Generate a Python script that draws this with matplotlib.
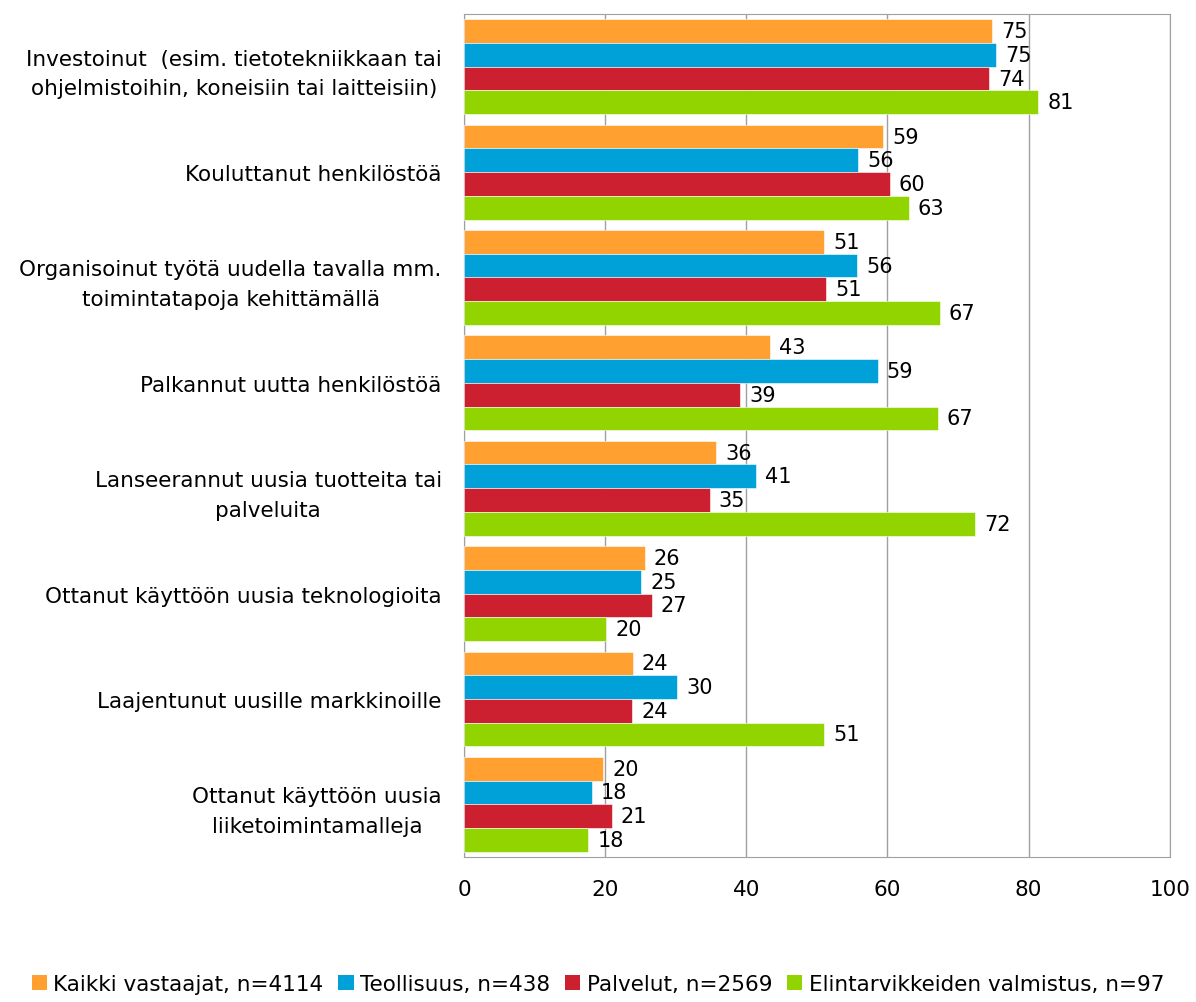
import numpy as np
import matplotlib.pyplot as plt
from matplotlib.patches import Patch

# data
categories = [
    'Investoinut  (esim. tietotekniikkaan tai\nohjelmistoihin, koneisiin tai laitteisiin)',
    'Kouluttanut henkilöstöä',
    'Organisoinut työtä uudella tavalla mm.\ntoimintatapoja kehittämällä',
    'Palkannut uutta henkilöstöä',
    'Lanseerannut uusia tuotteita tai\npalveluita',
    'Ottanut käyttöön uusia teknologioita',
    'Laajentunut uusille markkinoille',
    'Ottanut käyttöön uusia\nliiketoimintamalleja',
]
series_names = ['Kaikki vastaajat, n=4114', 'Teollisuus, n=438',
                'Palvelut, n=2569', 'Elintarvikkeiden valmistus, n=97']
kaikki = [74.8, 59.4, 51.0, 43.3, 35.7, 25.6, 23.9, 19.7]
teollisuus = [75.4, 55.8, 55.7, 58.6, 41.4, 25.1, 30.2, 18.1]
palvelut = [74.4, 60.3, 51.3, 39.1, 34.8, 26.6, 23.8, 20.9]
elintarvike = [81.4, 63.0, 67.4, 67.1, 72.4, 20.1, 51.0, 17.6]
series = [kaikki, teollisuus, palvelut, elintarvike]
colors = ['#ffa030', '#00a0d8', '#cc2030', '#92d400']
xticks = [0, 20, 40, 60, 80, 100]

fs = 15.5
fig = plt.figure(figsize=(11.96, 10.03), dpi=100)
ax = fig.add_axes([0.388, 0.1446, 0.590, 0.8404])

y = np.arange(len(categories))
h = 0.225
for k, (vals, col) in enumerate(zip(series, colors)):
    pos = y + (k - 1.5) * h
    ax.barh(pos, vals, height=h, color=col, edgecolor='white', linewidth=0.4, zorder=3)
    for p, v in zip(pos, vals):
        ax.text(v + 1.3, p, f'{v:.0f}', va='center', ha='left', fontsize=15, zorder=4)

ax.set_xlim(0, 100)
ax.set_ylim(len(categories) - 0.5, -0.5)
ax.set_xticks(xticks)
ax.set_xticklabels([str(t) for t in xticks], fontsize=fs)
ax.set_yticks(y)
ax.set_yticklabels(categories, fontsize=fs, multialignment='center', linespacing=1.6)
ax.tick_params(axis='both', length=0)
ax.tick_params(axis='x', pad=16)
ax.tick_params(axis='y', pad=16)
ax.xaxis.grid(True, color='#a0a0a0', linewidth=1, zorder=0)
for s in ax.spines.values():
    s.set_color('#a0a0a0')

handles = [Patch(facecolor=c) for c in colors]
fig.legend(handles, series_names, loc='center', bbox_to_anchor=(0.5, 0.018),
           ncol=4, frameon=False, fontsize=fs, handlelength=0.7, handleheight=0.7,
           handletextpad=0.3, columnspacing=0.7)

fig.savefig('out.png', dpi=100)
plt.close()
